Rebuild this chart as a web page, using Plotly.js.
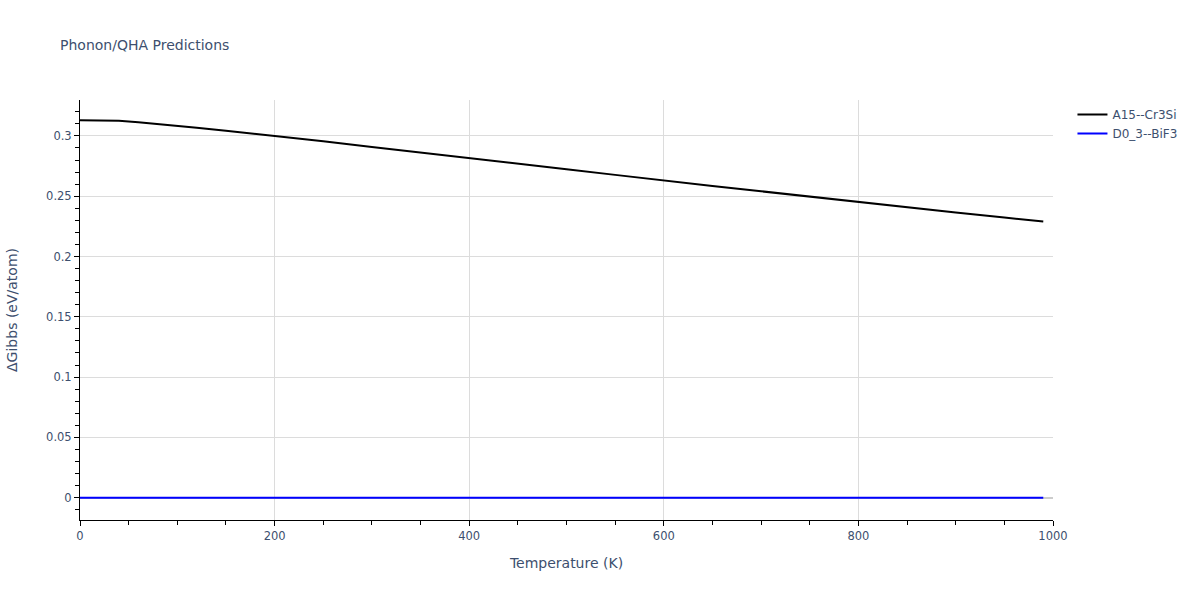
<!DOCTYPE html>
<html>
<head>
<meta charset="utf-8">
<script src="https://cdn.plot.ly/plotly-3.0.1.min.js"></script>
<style>body{margin:0;padding:0;}#plot{width:1200px;height:600px;}</style>
</head>
<body>
<div id="plot"></div>
<script>
const temps = [0, 20, 40, 60, 90, 120, 150, 200, 250, 300, 350, 400, 450, 500, 550, 600, 650, 700, 750, 800, 850, 900, 950, 990];
const gibbsA15 = [0.3131, 0.3129, 0.3125, 0.3114, 0.3093, 0.3068, 0.3044, 0.3003, 0.2956, 0.2909, 0.2864, 0.2818, 0.2771, 0.2724, 0.2677, 0.2629, 0.2585, 0.2541, 0.2496, 0.2452, 0.2409, 0.2365, 0.2323, 0.2290];
const gibbsD03 = temps.map(() => 0);
const seriesNames = ["A15--Cr3Si", "D0_3--BiF3"];

const data = [
  {x: temps, y: gibbsA15, type: 'scatter', mode: 'lines', name: seriesNames[0], line: {color: 'black', width: 2}},
  {x: temps, y: gibbsD03, type: 'scatter', mode: 'lines', name: seriesNames[1], line: {color: 'blue', width: 2}}
];
const layout = {
  width: 1200, height: 600,
  margin: {l: 80, r: 147, t: 100, b: 80},
  title: {text: 'Phonon/QHA Predictions', x: 0.05, xanchor: 'left', y: 0.925, yanchor: 'middle', font: {size: 14, color: '#3d4f6e'}},
  paper_bgcolor: 'white', plot_bgcolor: 'white',
  font: {family: '"DejaVu Sans", Verdana, sans-serif', size: 11.5, color: '#3d4f6e'},
  xaxis: {
    title: {text: 'Temperature (K)', font: {size: 14}, standoff: 16},
    range: [0, 1000], dtick: 200,
    showline: true, linecolor: 'black', linewidth: 1,
    ticks: 'outside', tickcolor: 'black', ticklen: 5,
    minor: {dtick: 50, ticks: 'outside', ticklen: 4, tickcolor: 'black', showgrid: false},
    gridcolor: '#dcdcdc', zeroline: false, automargin: false
  },
  yaxis: {
    title: {text: 'ΔGibbs (eV/atom)', font: {size: 14}, standoff: 25},
    range: [-0.0185, 0.3298], dtick: 0.05,
    showline: true, linecolor: 'black', linewidth: 1,
    ticks: 'outside', tickcolor: 'black', ticklen: 5,
    minor: {dtick: 0.01, ticks: 'outside', ticklen: 4, tickcolor: 'black', showgrid: false},
    gridcolor: '#dcdcdc', zeroline: true, zerolinecolor: '#cccccc', zerolinewidth: 2, automargin: false
  },
  legend: {x: 1.02, y: 1, xanchor: 'left', yanchor: 'top', font: {size: 12}},
  showlegend: true
};
Plotly.newPlot('plot', data, layout, {displayModeBar: false});
</script>
</body>
</html>
